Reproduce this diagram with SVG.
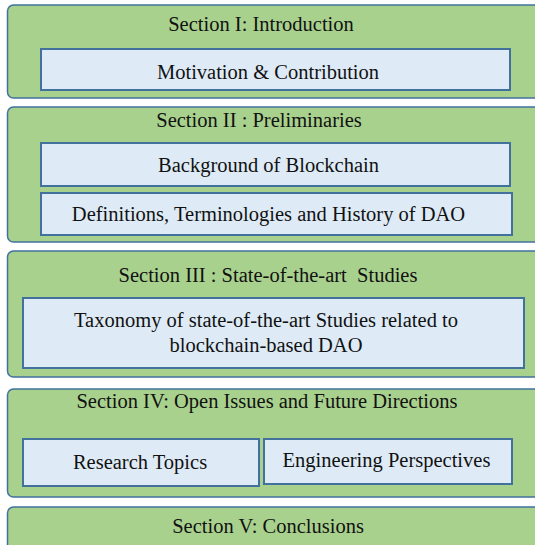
<svg xmlns="http://www.w3.org/2000/svg" width="535" height="545" viewBox="0 0 535 545">
<style>
.sec{fill:#A9D18E;stroke:#41719C;stroke-width:1.5}
.sub{fill:#DEEBF7;stroke:#41719C;stroke-width:2}
.t{font-size:20.5px;fill:#111;text-anchor:middle}
</style>
<rect width="535" height="545" fill="#fff"/>
<g font-family="Liberation Serif, serif">
<g id="sec1">
<rect class="sec" x="7.5" y="5" width="545" height="93" rx="6"/>
<text class="t" x="261" y="31">Section I: Introduction</text>
</g>
<g id="motivation">
<rect class="sub" x="41" y="49" width="469" height="41"/>
<text class="t" x="268" y="79">Motivation &amp; Contribution</text>
</g>
<g id="sec2">
<rect class="sec" x="7.5" y="107" width="545" height="135" rx="6"/>
<text class="t" x="259" y="127">Section II : Preliminaries</text>
</g>
<g id="background">
<rect class="sub" x="41" y="143" width="469" height="43"/>
<text class="t" x="268.5" y="172">Background of Blockchain</text>
</g>
<g id="definitions">
<rect class="sub" x="41" y="193" width="471" height="42"/>
<text class="t" x="268.5" y="221">Definitions, Terminologies and History of DAO</text>
</g>
<g id="sec3">
<rect class="sec" x="7.5" y="251" width="545" height="126" rx="6"/>
<text class="t" x="268" y="282" xml:space="preserve">Section III : State-of-the-art  Studies</text>
</g>
<g id="taxonomy">
<rect class="sub" x="23" y="298" width="501" height="70"/>
<text class="t" x="266" y="327">Taxonomy of state-of-the-art Studies related to</text>
<text class="t" x="266" y="352">blockchain-based DAO</text>
</g>
<g id="sec4">
<rect class="sec" x="7.5" y="389" width="545" height="108" rx="6"/>
<text class="t" x="267" y="408">Section IV: Open Issues and Future Directions</text>
</g>
<g id="research">
<rect class="sub" x="23" y="439" width="236" height="47"/>
<text class="t" x="140" y="469">Research Topics</text>
</g>
<g id="engineering">
<rect class="sub" x="264" y="439" width="248" height="45"/>
<text class="t" x="386.5" y="467">Engineering Perspectives</text>
</g>
<g id="sec5">
<rect class="sec" x="7.5" y="507" width="545" height="50" rx="6"/>
<text class="t" x="268" y="533">Section V: Conclusions</text>
</g>
</g>
<g id="connectors"></g>
</svg>
